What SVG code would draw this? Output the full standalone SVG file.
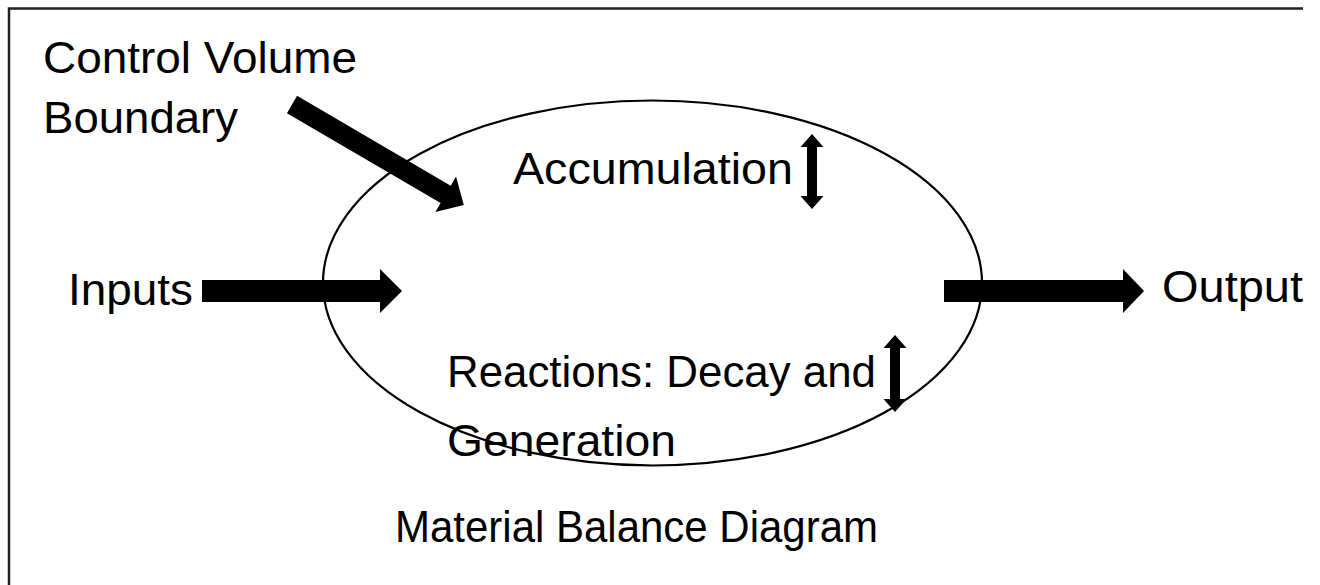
<svg xmlns="http://www.w3.org/2000/svg" width="1320" height="585" viewBox="0 0 1320 585">
  <style>
    .lbl { font-family: "Liberation Sans", Arial, sans-serif; font-size: 45px; fill: #000; }
    .arrow { fill: #000; stroke: none; }
  </style>
  <rect x="0" y="0" width="1320" height="585" fill="#fff"/>
  <g id="frame">
    <path d="M9,585 V8.5 H1303" fill="none" stroke="#222" stroke-width="2.5"/>
  </g>
  <g id="control-volume">
    <ellipse cx="652.5" cy="283" rx="329.5" ry="182.5" fill="none" stroke="#000" stroke-width="2.2"/>
  </g>
  <g id="label-control-volume">
    <text class="lbl" x="43" y="73" textLength="314" lengthAdjust="spacingAndGlyphs">Control Volume</text>
    <text class="lbl" x="43" y="133" textLength="195" lengthAdjust="spacingAndGlyphs">Boundary</text>
  </g>
  <g id="node-accumulation">
    <text class="lbl" x="513" y="184" textLength="280" lengthAdjust="spacingAndGlyphs">Accumulation</text>
  </g>
  <g id="node-reactions">
    <text class="lbl" x="447" y="387" textLength="429" lengthAdjust="spacingAndGlyphs">Reactions: Decay and</text>
    <text class="lbl" x="447" y="456" textLength="229" lengthAdjust="spacingAndGlyphs">Generation</text>
  </g>
  <g id="node-inputs">
    <text class="lbl" x="68" y="305" textLength="125" lengthAdjust="spacingAndGlyphs">Inputs</text>
  </g>
  <g id="node-output">
    <text class="lbl" x="1162" y="302" textLength="141" lengthAdjust="spacingAndGlyphs">Output</text>
  </g>
  <g id="caption">
    <text class="lbl" x="395" y="542" textLength="483" lengthAdjust="spacingAndGlyphs">Material Balance Diagram</text>
  </g>
  <g id="connectors">
    <path class="arrow" d="M202,280 H380 V269 L402,291 L380,313 V302 H202 Z"/>
    <path class="arrow" d="M944,280 H1123 V269 L1144,291 L1123,313 V302 H944 Z"/>
    <path class="arrow" transform="translate(292,104.5) rotate(30.3)" d="M0,-10 H178 V-20.5 L199,0 L178,20.5 V10 H0 Z"/>
    <path class="arrow" d="M812,134 L823.5,147 H817 V196 H823.5 L812,209 L800.5,196 H807 V147 H800.5 Z"/>
    <path class="arrow" d="M895,335 L906.5,348 H900 V399 H906.5 L895,412 L883.5,399 H890 V348 H883.5 Z"/>
  </g>
</svg>
